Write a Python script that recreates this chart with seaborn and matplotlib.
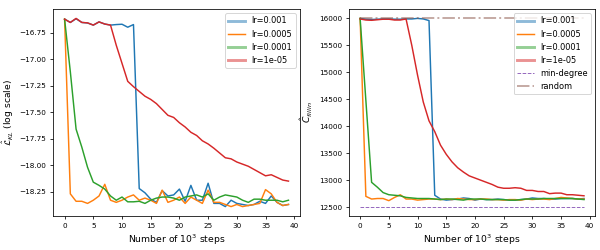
import numpy as np
import pandas as pd
import seaborn as sns
import matplotlib.pyplot as plt

# steps (in thousands)
steps = list(range(40))
labels = ['lr=0.001', 'lr=0.0005', 'lr=0.0001', 'lr=1e-05']

# left panel: KL loss (log scale)
kl_001 = [-16.624, -16.655, -16.62, -16.655, -16.66, -16.68, -16.65, -16.67, -16.68, -16.675,
          -16.672, -16.70, -16.675, -18.22, -18.26, -18.32, -18.35, -18.24, -18.29, -18.28,
          -18.225, -18.34, -18.19, -18.33, -18.33, -18.17, -18.36, -18.36, -18.39, -18.33,
          -18.36, -18.37, -18.38, -18.37, -18.34, -18.36, -18.29, -18.35, -18.38, -18.37]
kl_0005 = [-16.624, -18.27, -18.34, -18.34, -18.36, -18.33, -18.29, -18.18, -18.33, -18.35,
           -18.33, -18.30, -18.28, -18.33, -18.31, -18.33, -18.36, -18.235, -18.35, -18.33,
           -18.30, -18.36, -18.30, -18.33, -18.36, -18.235, -18.35, -18.35, -18.37, -18.39,
           -18.37, -18.39, -18.38, -18.37, -18.36, -18.23, -18.27, -18.35, -18.38, -18.37]
kl_0001 = [-16.624, -17.12, -17.66, -17.83, -18.02, -18.16, -18.19, -18.225, -18.29, -18.33,
           -18.30, -18.345, -18.345, -18.34, -18.36, -18.33, -18.31, -18.30, -18.30, -18.31,
           -18.33, -18.30, -18.29, -18.28, -18.30, -18.27, -18.33, -18.30, -18.28, -18.29,
           -18.30, -18.33, -18.35, -18.32, -18.32, -18.33, -18.33, -18.33, -18.345, -18.33]
kl_1e5 = [-16.624, -16.655, -16.617, -16.655, -16.659, -16.68, -16.65, -16.67, -16.68, -16.87,
          -17.04, -17.21, -17.26, -17.305, -17.35, -17.38, -17.42, -17.475, -17.53, -17.55,
          -17.60, -17.64, -17.69, -17.72, -17.77, -17.80, -17.84, -17.885, -17.93, -17.94,
          -17.97, -17.99, -18.01, -18.04, -18.07, -18.10, -18.09, -18.115, -18.14, -18.15]

# right panel: fill-in cost
fill_001 = [16000, 15985, 15980, 15985, 15990, 15990, 15985, 15985, 15990, 15990,
            16000, 15990, 15960, 12720, 12650, 12630, 12640, 12650, 12670, 12660,
            12630, 12650, 12640, 12640, 12650, 12640, 12630, 12630, 12640, 12650,
            12670, 12660, 12660, 12650, 12650, 12660, 12660, 12660, 12650, 12660]
fill_0005 = [16000, 12700, 12650, 12660, 12660, 12620, 12680, 12730, 12650, 12650,
             12630, 12640, 12650, 12650, 12640, 12650, 12640, 12660, 12650, 12640,
             12640, 12650, 12650, 12640, 12640, 12630, 12640, 12640, 12630, 12650,
             12640, 12650, 12650, 12640, 12660, 12680, 12670, 12660, 12650, 12650]
fill_0001 = [16000, 14480, 12960, 12870, 12770, 12730, 12720, 12710, 12680, 12670,
             12660, 12660, 12660, 12650, 12640, 12650, 12650, 12640, 12630, 12650,
             12650, 12650, 12640, 12640, 12640, 12640, 12630, 12630, 12640, 12650,
             12650, 12650, 12660, 12660, 12660, 12660, 12660, 12660, 12650, 12640]
fill_1e5 = [15990, 15970, 15965, 15975, 15985, 15985, 15970, 15970, 15990, 15500,
            14950, 14450, 14100, 13900, 13650, 13480, 13340, 13230, 13150, 13080,
            13040, 13000, 12960, 12920, 12870, 12850, 12850, 12860, 12850, 12810,
            12810, 12790, 12790, 12750, 12760, 12760, 12730, 12730, 12720, 12710]
min_degree = 12510
random_cost = 16000


def to_long(series):
    frames = []
    for lab, vals in zip(labels, series):
        frames.append(pd.DataFrame({'step': steps, 'value': vals, 'run': lab}))
    return pd.concat(frames, ignore_index=True)


palette = sns.color_palette('tab10')[:4]

# drawn at 70 dpi so default sizes shrink like the original
dpi = 70
fig, axes = plt.subplots(1, 2, figsize=(600 / dpi, 250 / dpi), dpi=dpi)
fig.subplots_adjust(left=0.089, right=0.992, bottom=0.136, top=0.964, wspace=0.2)

# legend handle styles as in the original figure
handle_style = [(3.0, 0.5), (1.5, 1.0), (3.0, 0.5), (3.0, 0.5)]

ax = axes[0]
df_kl = to_long([kl_001, kl_0005, kl_0001, kl_1e5])
sns.lineplot(data=df_kl, x='step', y='value', hue='run', palette=palette, ax=ax)
ax.set_xlabel('Number of $10^3$ steps', fontsize=9.5)
ax.set_ylabel(r'$\hat{\mathcal{L}}_{KL}$ (log scale)', fontsize=9.5)
leg = ax.legend(loc='upper right', fontsize=8.5)
for h, (lw, a) in zip(leg.get_lines(), handle_style):
    h.set_linewidth(lw)
    h.set_alpha(a)

ax = axes[1]
df_fill = to_long([fill_001, fill_0005, fill_0001, fill_1e5])
sns.lineplot(data=df_fill, x='step', y='value', hue='run', palette=palette, ax=ax)
sns.lineplot(x=steps, y=[min_degree] * len(steps), color='tab:purple', linestyle='--',
             linewidth=1.0, label='min-degree', ax=ax)
sns.lineplot(x=steps, y=[random_cost] * len(steps), color='tab:brown', linestyle='-.',
             linewidth=2.0, alpha=0.5, label='random', ax=ax)
ax.set_xlabel('Number of $10^3$ steps', fontsize=9.5)
ax.set_ylabel(r'$\hat{C}_{fillin}$', fontsize=9.5)
leg = ax.legend(loc='upper right', fontsize=8.5)
for h, (lw, a) in zip(leg.get_lines()[:4], handle_style):
    h.set_linewidth(lw)
    h.set_alpha(a)

for ax in axes:
    ax.set_xticks([0, 5, 10, 15, 20, 25, 30, 35, 40])
    ax.tick_params(labelsize=7.5)

fig.savefig('out.png', dpi=dpi)
